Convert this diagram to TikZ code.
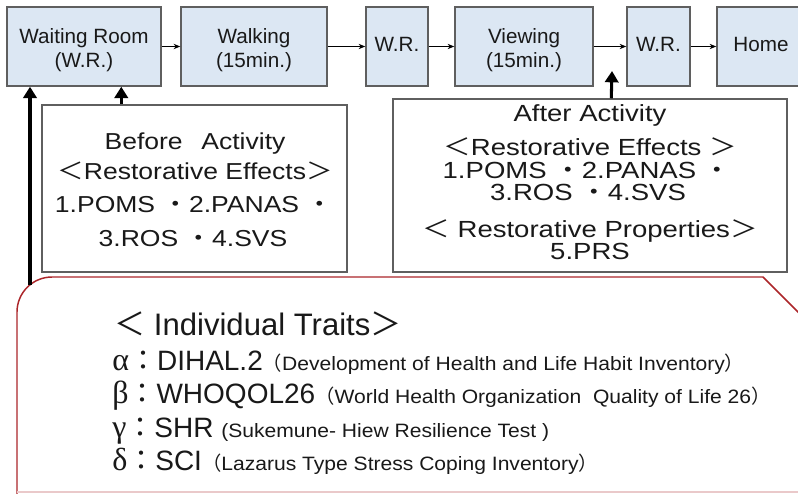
\documentclass[tikz,border=0pt]{standalone}
\usepackage{fontspec}
\setmainfont{Liberation Sans}
\newfontfamily\cjk{Noto Sans CJK JP}
\newfontfamily\cjkB[FakeStretch=1.15]{Noto Sans CJK JP}
\newfontfamily\cjkA[FakeStretch=1.18]{Noto Sans CJK JP}
\newfontfamily\wideB[FakeStretch=1.15]{Liberation Sans}
\newfontfamily\wideA[FakeStretch=1.18]{Liberation Sans}
\newfontfamily\wideT[FakeStretch=1.09]{Liberation Sans}
\newfontfamily\grk{Liberation Serif}
\usetikzlibrary{arrows.meta}
\definecolor{boxblue}{RGB}{220,231,243}
\definecolor{boxgray}{RGB}{95,95,95}
\definecolor{redline}{RGB}{172,38,42}
\definecolor{txt}{RGB}{25,25,25}
\newcommand\myLT{\smash{\cjk ＜}}
\newcommand\myGT{\smash{\cjk ＞}}
\newcommand\myMD{\smash{\cjk ・}}
\newcommand\myLP{\smash{\cjk （}}
\newcommand\myRP{\smash{\cjk ）}}
\newcommand\myCL{\smash{\cjk ：}}
\tikzset{
  flowbox/.style={draw=boxgray, fill=boxblue, line width=1.1pt, minimum height=59.25pt,
    inner sep=0pt},
  flowlabel/.style={align=center, text=txt, inner sep=0pt, font=\fontsize{15.5pt}{18pt}\selectfont},
  infobox/.style={draw=boxgray, fill=white, line width=1.1pt, inner sep=0pt},
  beforetext/.style={anchor=base, text=txt, inner sep=0pt,
    font=\fontsize{17.3pt}{20pt}\wideB\let\cjk\cjkB\selectfont},
  aftertext/.style={anchor=base, text=txt, inner sep=0pt,
    font=\fontsize{17.5pt}{20pt}\wideA\let\cjk\cjkA\selectfont},
  traittext/.style={anchor=base west, text=txt, inner sep=0pt, font=\fontsize{21pt}{24pt}\selectfont},
  thinarrow/.style={draw=black, line width=0.8pt, -{Stealth[length=5pt,width=4pt]}},
  bigarrow/.style={draw=black, line width=2.3pt, -{Triangle[length=8.5pt,width=10pt]}},
  redframe/.style={draw=redline, line width=1.1pt},
}
\newcommand\paren[1]{{\fontsize{14.5pt}{16pt}\wideT\selectfont #1}}
\newcommand\gk[1]{{\grk\fontsize{24pt}{24pt}\selectfont #1}}
\begin{document}
\begin{tikzpicture}[x=0.75pt,y=-0.75pt]
\clip (0,0) rectangle (798,493);
\fill[white] (0,0) rectangle (798,493);

% top flow
\node[flowbox, minimum width=115.5pt] (wr) at (84,46.5) {};
\node[flowbox, minimum width=109.5pt] (walk) at (254,46.5) {};
\node[flowbox, minimum width=46.5pt] (wr1) at (397,46.5) {};
\node[flowbox, minimum width=103.5pt] (view) at (524,46.5) {};
\node[flowbox, minimum width=47.25pt] (wr2) at (658.5,46.5) {};
\node[flowbox, minimum width=72pt] (home) at (765,46.5) {};
\node[flowlabel] (wrl) at ([yshift=-3pt]wr.center) {Waiting Room\\(W.R.)};
\node[flowlabel] (walkl) at ([yshift=-3pt]walk.center) {Walking\\(15min.)};
\node[flowlabel] (wr1l) at ([yshift=1.5pt]wr1.center) {W.R.};
\node[flowlabel] (viewl) at ([yshift=-3pt]view.center) {Viewing\\(15min.)};
\node[flowlabel] (wr2l) at ([yshift=1.5pt]wr2.center) {W.R.};
\node[flowlabel] (homel) at ([xshift=-3pt,yshift=1.5pt]home.center) {Home};

\draw[thinarrow] (wr.east) -- (walk.west);
\draw[thinarrow] (walk.east) -- (wr1.west);
\draw[thinarrow] (wr1.east) -- (view.west);
\draw[thinarrow] (view.east) -- (wr2.west);
\draw[thinarrow] (wr2.east) -- (home.west);

% before box
\node[infobox, minimum width=228.75pt, minimum height=125.25pt] (before) at (194.5,188.5) {};
\node[beforetext] (b1) at (195,149) {Before\hspace{14pt}Activity};
\node[beforetext] (b2) at (195,179) {\myLT Restorative Effects\myGT};
\node[beforetext] (b3) at (194,212) {1.POMS \myMD 2.PANAS \myMD};
\node[beforetext] (b4) at (193,246) {3.ROS \myMD 4.SVS};

% after box
\node[infobox, minimum width=295.5pt, minimum height=129.75pt] (after) at (590,185.5) {};
\node[aftertext] (a1) at (590,121) {After Activity};
\node[aftertext] (a2) at (590,155) {\myLT Restorative Effects \myGT};
\node[aftertext] (a3) at (587,178) {1.POMS \myMD 2.PANAS \myMD};
\node[aftertext] (a4) at (588,200) {3.ROS \myMD 4.SVS};
\node[aftertext] (a5) at (590,237) {\myLT\ Restorative Properties\myGT};
\node[aftertext] (a6) at (590,259) {5.PRS};

% red frame
\draw[redframe] (17,500) -- (17,312) .. controls (17,292.7) and (32.7,277) .. (52,277)
  -- (763,277) -- (802,316);
\draw[redline!25, line width=1pt] (17,492) -- (798,492);
\coordinate (rtop) at (30,285);
\coordinate (atip) at (612,71);

% thick arrows
\draw[bigarrow] (rtop) -- (rtop |- wr.south);
\draw[bigarrow] ([xshift=60pt]before.north west) coordinate (bs) -- (bs |- wr.south);
\draw[bigarrow] ([xshift=164.25pt]after.north west) -- (atip);

% traits
\node[traittext, font=\fontsize{23.3pt}{26pt}\selectfont] (t0) at (114,335) {\myLT\ Individual Traits\myGT};
\node[traittext] (t1) at (112,370) {\gk{α}\myCL DIHAL.2\paren{\myLP Development of Health and Life Habit Inventory\myRP}};
\node[traittext] (t2) at (112,403) {\gk{β}\myCL WHOQOL26\paren{\myLP World Health Organization\ \ Quality of Life 26\myRP}};
\node[traittext] (t3) at (112,437) {\gk{γ}\myCL SHR \paren{(Sukemune- Hiew Resilience Test )}};
\node[traittext] (t4) at (112,470) {\gk{δ}\myCL SCI\paren{\myLP Lazarus Type Stress Coping Inventory\myRP}};
\end{tikzpicture}
\end{document}
